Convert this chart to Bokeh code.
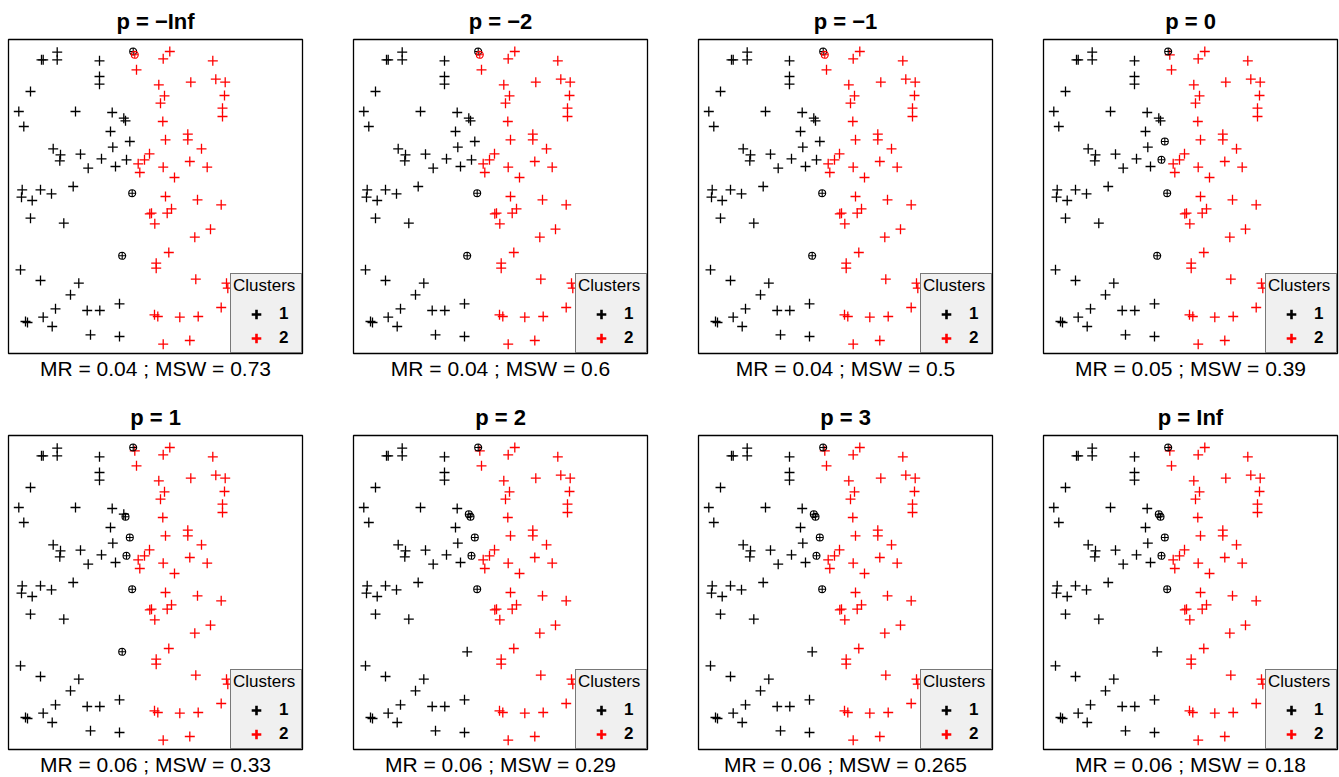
from bokeh.plotting import figure
from bokeh.models import Range1d, Legend, LegendItem, Title, ColumnDataSource
from bokeh.layouts import column, row
from bokeh.embed import file_html
from bokeh.resources import INLINE

FONT = "Liberation Sans"

# cluster 1 (black) coordinates
x1 = [33, 34.7, 48.7, 48.7, 91, 91, 91, 124.7, 22, 10.3,
      15.3, 67, 103.7, 115.3, 117, 102, 121.3, 104.3, 44.7, 52,
      51.3, 72, 93, 118, 79.7, 107, 123.7, 13.7, 13, 23.7,
      32, 43, 64.7, 22, 55.3, 113.7, 12, 32, 70.3, 62,
      111, 47, 78.7, 91.3, 34.7, 17, 19, 43.7, 82, 111]
y1 = [293.7, 293.7, 301.3, 293.7, 292.7, 277, 269.3, 302, 262, 242,
      227, 242, 241, 235.3, 232.7, 222, 212, 206.3, 204.7, 198.7,
      192.7, 199.3, 194.7, 193.7, 185.3, 187, 160.3, 163.7, 156.3, 153,
      163.7, 159.7, 167, 135.3, 130.3, 97.7, 83.7, 73, 70.3, 58.7,
      49.7, 44.7, 43, 43, 36.3, 32, 31, 27, 18.7, 17]
# cluster 2 (red) coordinates
x2 = [126.3, 161.3, 154.7, 204.3, 128, 182.3, 150.3, 207.3, 216.7, 156,
      152, 216, 214, 214, 154.3, 179.3, 179.3, 157, 193, 141,
      136, 129.7, 181.3, 154.7, 131.3, 166, 198.7, 157, 189, 212.7,
      143, 141.3, 158.7, 163, 146.3, 202, 186.3, 160.3, 147.7, 147.7,
      187.3, 218, 219.3, 212.7, 146, 149.3, 171.3, 189.7, 154.7, 181.3]
y2 = [298.7, 302, 294.7, 292.7, 283.7, 271.3, 268.7, 274.3, 271.3, 257.7,
      250.3, 258, 245.3, 237, 232, 219.3, 213.7, 213.7, 204.7, 199.7,
      193.7, 189.7, 192, 186.3, 181, 176, 186.3, 157, 153.7, 148.7,
      140.3, 139.7, 140.3, 144.7, 129.7, 124.3, 116.3, 101, 90.3, 85.3,
      74.3, 70.3, 65.3, 46, 38.7, 37, 36.3, 37, 9.3, 13]

panel_titles = ["p = \u2212Inf", "p = \u22122", "p = \u22121", "p = 0",
                "p = 1", "p = 2", "p = 3", "p = Inf"]
mr_values = ["0.04", "0.04", "0.04", "0.05", "0.06", "0.06", "0.06", "0.06"]
msw_values = ["0.73", "0.6", "0.5", "0.39", "0.33", "0.29", "0.265", "0.18"]
# indices (cluster1 points 0..49, cluster2 points 50..99) of misclassified points
misclassified = [
    [7, 50, 26, 35],
    [7, 50, 26, 35],
    [7, 50, 26, 35],
    [7, 16, 23, 26, 35],
    [7, 14, 16, 23, 26, 35],
    [7, 13, 14, 16, 23, 26],
    [7, 13, 14, 16, 23, 26],
    [7, 13, 14, 16, 23, 26],
]
cluster_labels = ["1", "2"]
cluster_colors = ["#000000", "#FF0000"]

xs = x1 + x2
ys = y1 + y2
cols = [cluster_colors[0]] * len(x1) + [cluster_colors[1]] * len(x2)
cluster_first = [(x1[0], y1[0]), (x2[0], y2[0])]


def make_panel(k):
    c = k % 4
    r = k // 4
    p = figure(frame_width=294, frame_height=314,
               x_range=Range1d(0, 294), y_range=Range1d(0, 314),
               x_axis_type=None, y_axis_type=None,
               output_backend="svg", toolbar_location=None,
               min_border_left=8, min_border_right=43 if c < 3 else 2,
               min_border_top=38 if r == 0 else 30,
               min_border_bottom=43 if r == 0 else 26,
               background_fill_color="white", border_fill_color="white")
    p.outline_line_color = "black"
    p.outline_line_width = 1.3
    p.title.text = panel_titles[k]
    p.title.align = "center"
    p.title.text_font = FONT
    p.title.text_font_size = "22px"
    p.title.text_font_style = "bold"
    p.title.text_color = "black"
    p.title.standoff = 12

    mis = set(misclassified[k])
    plain = [i for i in range(len(xs)) if i not in mis]
    circ = [i for i in range(len(xs)) if i in mis]
    src_plain = ColumnDataSource(dict(x=[xs[i] for i in plain], y=[ys[i] for i in plain],
                                      c=[cols[i] for i in plain]))
    src_circ = ColumnDataSource(dict(x=[xs[i] for i in circ], y=[ys[i] for i in circ],
                                     c=[cols[i] for i in circ]))
    p.scatter("x", "y", source=src_plain, marker="cross", size=10,
              line_color="c", line_width=1.3)
    p.scatter("x", "y", source=src_circ, marker="circle_cross", size=7,
              line_color="c", fill_alpha=0, line_width=1.1)

    # legend-only renderers (zero size on the plot, bold cross in the legend)
    leg_r = []
    for i, col_ in enumerate(cluster_colors):
        leg_r.append(p.scatter(x=[cluster_first[i][0]], y=[cluster_first[i][1]],
                               marker="cross", size=0,
                               line_color=col_, line_width=2.6))
    legend = Legend(items=[LegendItem(label=cluster_labels[i], renderers=[leg_r[i]])
                           for i in range(2)],
                    location="bottom_right", title="Clusters",
                    title_text_font=FONT, title_text_font_size="17px",
                    title_text_font_style="normal", title_text_color="black",
                    title_standoff=6,
                    label_text_font=FONT, label_text_font_size="17px",
                    label_text_font_style="bold", label_text_color="black",
                    padding=2, spacing=0, glyph_height=24, glyph_width=46,
                    label_standoff=-6, label_height=24,
                    background_fill_color="#f0f0f0", background_fill_alpha=1,
                    border_line_color="black", border_line_width=1.3, margin=0)
    p.add_layout(legend)

    sub = Title(text="MR = %s ; MSW = %s" % (mr_values[k], msw_values[k]),
                align="center", text_font=FONT, text_font_size="21px",
                text_font_style="normal", text_color="black",
                standoff=3 if r == 0 else 2)
    p.add_layout(sub, "below")
    return p


panels = [make_panel(k) for k in range(8)]
layout = column(row(*panels[:4]), row(*panels[4:]))

open("out.html", "w").write(file_html(layout, INLINE))
